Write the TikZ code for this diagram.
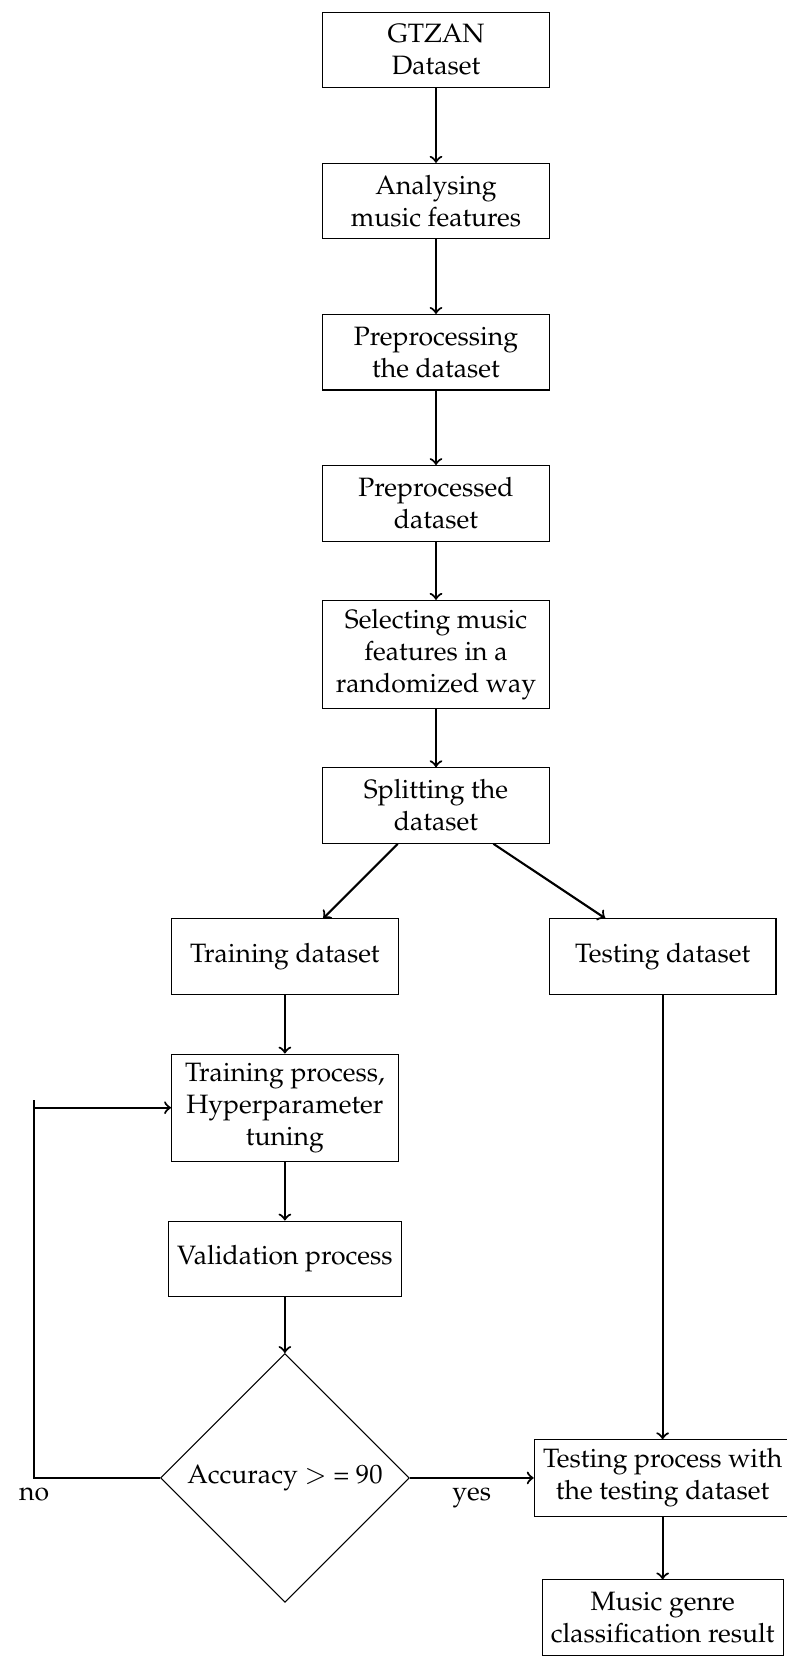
\documentclass[tikz,border=0pt]{standalone}
\usepackage[T1]{fontenc}
\usepackage{amsmath}
\usepackage{mathpazo}
\usepackage{tikz}
\usetikzlibrary{shapes.geometric}
\usetikzlibrary{positioning}

\begin{document}
\begin{tikzpicture}
    [
    box/.style={rectangle,draw,minimum width=3cm,minimum height=1cm,align=center},
    decision/.style={diamond,draw,align=center,inner sep=2.6pt},
    flow/.style={->,thick},
    ]
    \useasboundingbox (-5.771,0.662) rectangle (4.646,-21.363);
    \node (gtzan) at (0,0) [box] {GTZAN\\Dataset};
    \node (analyse) at (0,-2) [box] {Analysing\\music features};
    \node (prep) at (0,-4) [box] {Preprocessing\\the dataset};
    \node (preped) at (0,-6) [box] {Preprocessed\\dataset};
    \node (select) at (0,-8) [box] {Selecting music\\features in a\\randomized way};
    \node (split) at (0,-10) [box] {Splitting the\\dataset};
    \draw [flow] (gtzan) to (analyse);
    \draw [flow] (analyse) to (prep);
    \draw [flow] (prep) to (preped);
    \draw [flow] (preped) to (select);
    \draw [flow] (select) to (split);

    \node (train) at (-2,-12) [box] {Training dataset};
    \node (test) at (3,-12) [box] {Testing dataset};
    \node (tune) at (-2,-14) [box] {Training process,\\Hyperparameter\\tuning};
    \node (valid) at (-2,-16) [box] {Validation process};
    \node (acc) at (-2,-18.9) [decision] {Accuracy $>$ = 90};
    \node (testproc) at (3,-18.9) [box] {Testing process with\\the testing dataset};
    \node (result) at (3,-20.75) [box] {Music genre\\classification result};
    \draw [flow] (split) to (train);
    \draw [flow] (split) to (test);
    \draw [flow] (train) to (tune);
    \draw [flow] (tune) to (valid);
    \draw [flow] (valid) to (acc);
    \draw [flow] (test) to (testproc);
    \draw [flow] (testproc) to (result);
    \draw [flow] (acc) -- node [below] {yes} (testproc);

    \coordinate (no) at (-5.32,-18.9);
    \coordinate (top) at (-5.32,-13.9);
    \draw [thick] (acc) -- (no) node [below] {no} -- (top);
    \draw [flow] (top |- tune) -- (tune);
  \end{tikzpicture}
\end{document}
